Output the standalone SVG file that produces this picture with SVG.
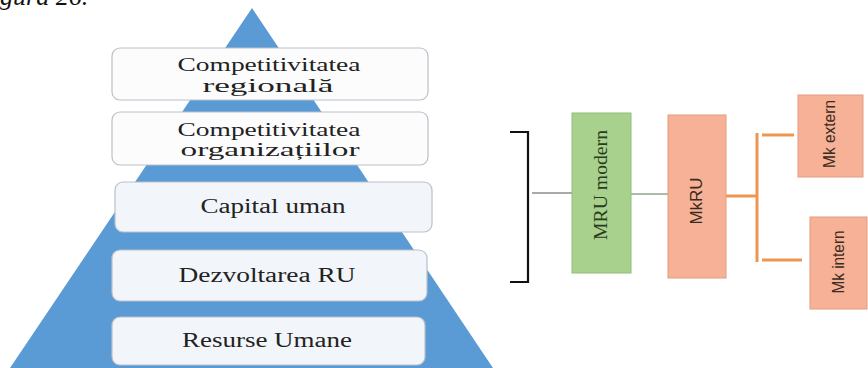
<svg xmlns="http://www.w3.org/2000/svg" width="868" height="368" viewBox="0 0 868 368">
  <style>
    .lvl { fill: #F2F6FB; stroke: #B9C0C9; stroke-width: 1.2; }
    .lvlw { fill: #FCFCFD; stroke: #B9C0C9; stroke-width: 1.2; }
    .pt { font-family: "Liberation Serif", "Times New Roman", serif; font-size: 20px; fill: #222; text-anchor: middle; }
    .pt2 { font-size: 18.5px; }
    .rs { font-family: "Liberation Sans", Arial, sans-serif; fill: #3a2a20; text-anchor: middle; }
    .green { fill: #A9D18E; stroke: #92BE76; stroke-width: 1; }
    .orange { fill: #F6B196; stroke: #E49C7E; stroke-width: 1; }
    .oline { stroke: #EE9650; stroke-width: 3; fill: none; }
  </style>

  <text x="-23" y="5" font-family="'Liberation Serif', 'Times New Roman', serif" font-style="italic" font-size="26" fill="#111">Figura 26.</text>

  <polygon id="pyramid" points="252,8 10,368 493,368" fill="#5B9BD5"/>

  <g id="n1">
    <rect class="lvlw" x="112" y="48" width="316" height="52" rx="8"/>
    <text class="pt pt2" x="269" y="71" textLength="183" lengthAdjust="spacingAndGlyphs">Competitivitatea</text>
    <text class="pt pt2" x="268" y="92" textLength="131" lengthAdjust="spacingAndGlyphs">regională</text>
  </g>
  <g id="n2">
    <rect class="lvlw" x="112" y="112" width="316" height="53" rx="8"/>
    <text class="pt pt2" x="269" y="136" textLength="183" lengthAdjust="spacingAndGlyphs">Competitivitatea</text>
    <text class="pt pt2" x="270" y="156" textLength="179" lengthAdjust="spacingAndGlyphs">organizațiilor</text>
  </g>
  <g id="n3">
    <rect class="lvl" x="115" y="182" width="317" height="50" rx="8"/>
    <text class="pt" x="273" y="213" textLength="145" lengthAdjust="spacingAndGlyphs">Capital uman</text>
  </g>
  <g id="n4">
    <rect class="lvl" x="112" y="250" width="315" height="51" rx="8"/>
    <text class="pt" x="267" y="282" textLength="177" lengthAdjust="spacingAndGlyphs">Dezvoltarea RU</text>
  </g>
  <g id="n5">
    <rect class="lvl" x="112" y="317" width="313" height="48" rx="8"/>
    <text class="pt" x="267" y="347" textLength="170" lengthAdjust="spacingAndGlyphs">Resurse Umane</text>
  </g>

  <g id="connectors">
    <polyline points="510,132 528,132 528,282 510,282" fill="none" stroke="#111" stroke-width="2.2"/>
    <line x1="532" y1="193" x2="572" y2="193" stroke="#8a8f8a" stroke-width="1.6"/>
    <line x1="631" y1="194" x2="668" y2="194" stroke="#8EA98A" stroke-width="1.6"/>
    <line x1="726" y1="196" x2="757" y2="196" class="oline" stroke-width="2"/>
    <line x1="757" y1="133" x2="757" y2="262" class="oline" stroke-width="2.2"/>
    <line x1="762" y1="135" x2="794" y2="135" class="oline"/>
    <line x1="762" y1="260" x2="802" y2="260" class="oline"/>
  </g>

  <g id="mru-modern">
    <rect class="green" x="572" y="113" width="59" height="160"/>
    <text transform="translate(607,185) rotate(-90)" font-family="'Liberation Serif', 'Times New Roman', serif" font-size="18" fill="#2a3a20" text-anchor="middle" textLength="110" lengthAdjust="spacingAndGlyphs">MRU modern</text>
  </g>
  <g id="mkru">
    <rect class="orange" x="668" y="115" width="58" height="163"/>
    <text class="rs" transform="translate(702,201) rotate(-90)" font-size="17" textLength="47" lengthAdjust="spacingAndGlyphs">MkRU</text>
  </g>
  <g id="mk-extern">
    <rect class="orange" x="798" y="95" width="65" height="82"/>
    <text class="rs" transform="translate(835,134) rotate(-90)" font-size="16" textLength="68" lengthAdjust="spacingAndGlyphs">Mk extern</text>
  </g>
  <g id="mk-intern">
    <rect class="orange" x="810" y="217" width="57" height="92"/>
    <text class="rs" transform="translate(844,262) rotate(-90)" font-size="16" textLength="63" lengthAdjust="spacingAndGlyphs">Mk intern</text>
  </g>
</svg>
